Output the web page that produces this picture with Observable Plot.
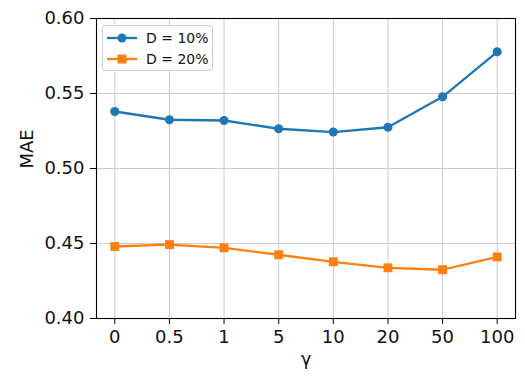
<!DOCTYPE html>
<html>
<head>
<meta charset="utf-8">
<script src="https://cdn.jsdelivr.net/npm/d3@7"></script>
<script src="https://cdn.jsdelivr.net/npm/@observablehq/plot@0.6"></script>
<style>
  html, body { margin: 0; padding: 0; background: #fff; }
  #wrap { position: relative; width: 525px; height: 378px; font-family: "DejaVu Sans", sans-serif; }
  #legend { position: absolute; left: 102px; top: 25px; width: 109px; height: 44px;
    border: 1px solid #cccccc; border-radius: 3px; background: rgba(255,255,255,0.85);
    font-size: 14px; color: #111; }
  .row { position: absolute; left: 0; height: 20px; display: flex; align-items: center; }
  .row svg { margin-left: 4px; }
  .row span { margin-left: 9px; }
</style>
</head>
<body>
<div id="wrap"></div>
<script>
const gammas = ["0", "0.5", "1", "5", "10", "20", "50", "100"];
const mae10 = [0.538, 0.5325, 0.532, 0.5265, 0.5243, 0.5275, 0.5478, 0.5778];
const mae20 = [0.448, 0.4493, 0.4471, 0.4425, 0.4378, 0.4338, 0.4325, 0.4411];
const seriesNames = ["D = 10%", "D = 20%"];
const seriesColors = ["#1f77b4", "#ff7f0e"];
const yTicks = [0.40, 0.45, 0.50, 0.55, 0.60];

const rows10 = gammas.map((g, i) => ({gamma: g, mae: mae10[i]}));
const rows20 = gammas.map((g, i) => ({gamma: g, mae: mae20[i]}));

const chart = Plot.plot({
  width: 525,
  height: 378,
  marginLeft: 96,
  marginRight: 10,
  marginTop: 18,
  marginBottom: 60,
  style: {fontFamily: "DejaVu Sans", fontSize: "18px", color: "#111", background: "#fff"},
  x: {type: "point", domain: gammas, padding: 0.335, round: false, label: null},
  y: {domain: [0.40, 0.60], label: null},
  marks: [
    Plot.gridX(gammas, {stroke: "#cccccc", strokeOpacity: 1, strokeWidth: 1}),
    Plot.gridY(yTicks, {stroke: "#cccccc", strokeOpacity: 1, strokeWidth: 1}),
    Plot.lineY(rows10, {x: "gamma", y: "mae", stroke: seriesColors[0], strokeWidth: 2.3}),
    Plot.dot(rows10, {x: "gamma", y: "mae", fill: seriesColors[0], r: 4.5, symbol: "circle"}),
    Plot.lineY(rows20, {x: "gamma", y: "mae", stroke: seriesColors[1], strokeWidth: 2.3}),
    Plot.dot(rows20, {x: "gamma", y: "mae", fill: seriesColors[1], r: 5, symbol: "square"}),
    Plot.frame({stroke: "#000", strokeWidth: 1.1}),
    Plot.axisY({ticks: yTicks, tickFormat: d3.format(".2f"), tickSize: 6, tickPadding: 6, label: null, stroke: "#000"}),
    Plot.axisX({tickSize: 6, tickPadding: 6, label: null, stroke: "#000"}),
    Plot.text(["MAE"], {frameAnchor: "left", rotate: -90, dx: -69, text: d => d, fontSize: 18, fill: "#111"}),
    Plot.text(["γ"], {frameAnchor: "bottom", dy: 46, text: d => d, fontSize: 18, fill: "#111"})
  ]
});

const wrap = document.getElementById("wrap");
wrap.appendChild(chart);

const legend = document.createElement("div");
legend.id = "legend";
seriesNames.forEach((name, i) => {
  const row = document.createElement("div");
  row.className = "row";
  row.style.top = (i === 0 ? 2 : 23) + "px";
  const marker = i === 0
    ? `<circle cx="15" cy="10" r="4.5" fill="${seriesColors[i]}"/>`
    : `<rect x="10.5" y="5.5" width="9" height="9" fill="${seriesColors[i]}"/>`;
  row.innerHTML = `<svg width="30" height="20"><line x1="0" x2="30" y1="10" y2="10" stroke="${seriesColors[i]}" stroke-width="2.3"/>${marker}</svg><span>${name}</span>`;
  legend.appendChild(row);
});
wrap.appendChild(legend);
</script>
</body>
</html>
